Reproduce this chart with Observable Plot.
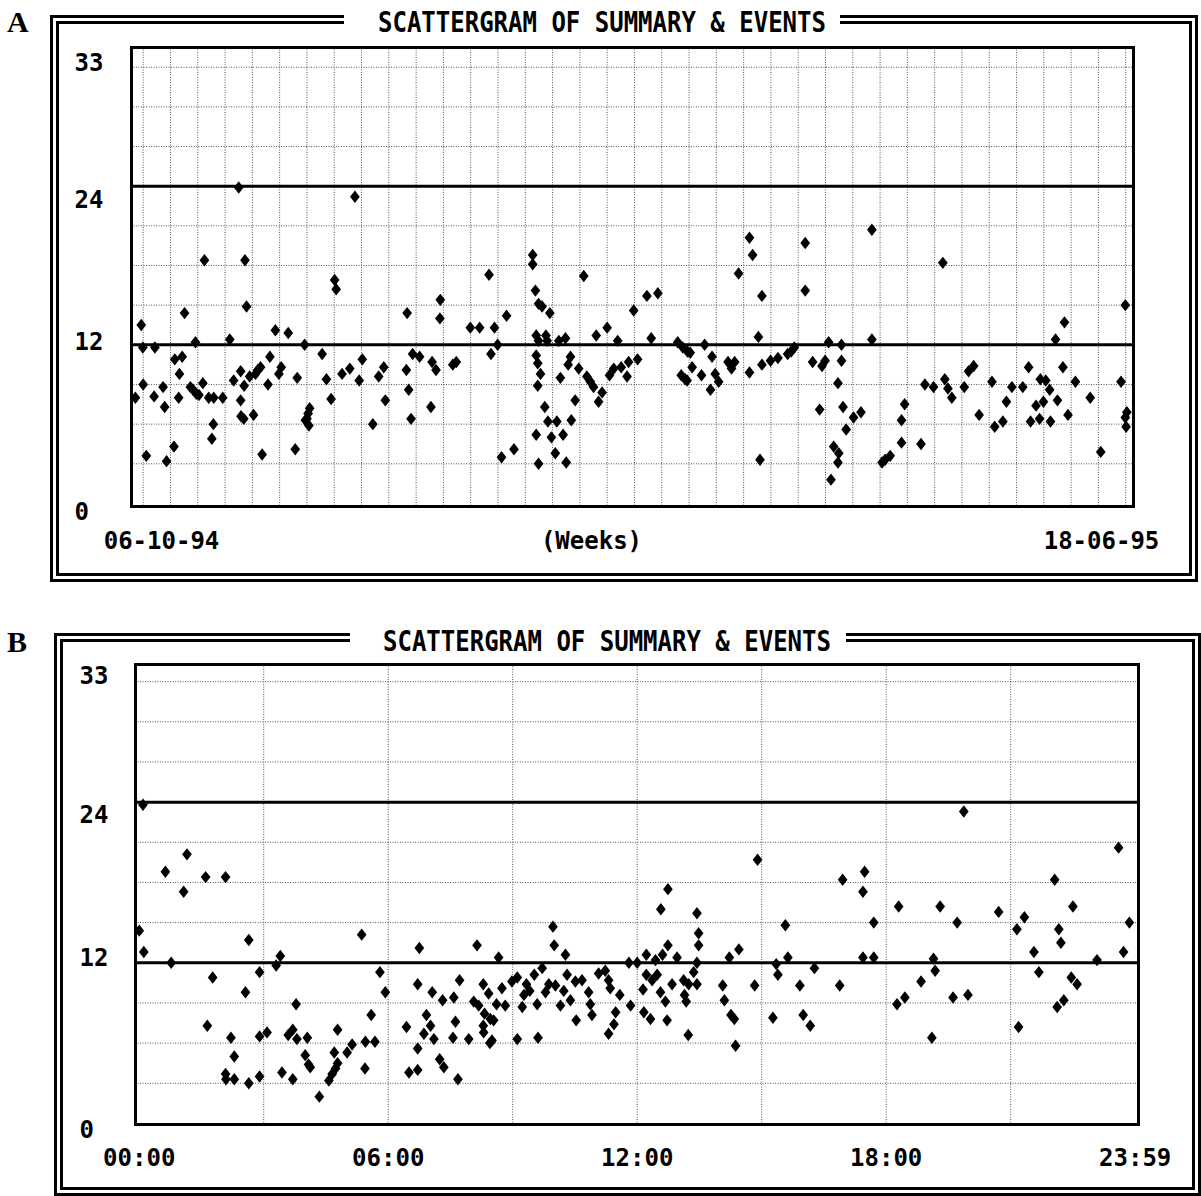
<!DOCTYPE html>
<html><head><meta charset="utf-8">
<script src="https://cdn.jsdelivr.net/npm/d3@7"></script>
<script src="https://cdn.jsdelivr.net/npm/@observablehq/plot@0.6"></script>
<style>
html,body{margin:0;padding:0;background:#fff;overflow:hidden;}
#page{position:relative;width:1201px;height:1196px;overflow:hidden;background:#fff;}
.panel{position:absolute;left:0;width:1201px;}
.border{position:absolute;box-sizing:border-box;border:9px double #000;}
.title{position:absolute;background:#fff;font-family:"DejaVu Sans Mono",monospace;font-weight:bold;font-size:24px;line-height:24px;white-space:nowrap;transform:scaleY(1.15);transform-origin:center;color:#000;}
.letter{position:absolute;font-family:"Liberation Serif","Times New Roman",serif;font-weight:bold;font-size:30px;line-height:30px;color:#000;}
.panel svg{position:absolute;left:0;top:0;}
</style></head>
<body>
<div id="page">
  <div class="letter" style="left:7px;top:7px">A</div>
  <div class="panel" id="pA" style="top:0;height:590px">
    <div class="border" style="left:50px;top:15px;width:1148px;height:567px"></div>
    <div class="title" id="tA" style="left:344px;top:10.5px;padding:0 14px 0 34px">SCATTERGRAM OF SUMMARY &amp; EVENTS</div>
  </div>
  <div class="letter" style="left:7px;top:627px">B</div>
  <div class="panel" id="pB" style="top:590px;height:606px">
    <div class="border" style="left:54px;top:43px;width:1147px;height:563px"></div>
    <div class="title" id="tB" style="left:350px;top:39.5px;padding:0 15px 0 33px">SCATTERGRAM OF SUMMARY &amp; EVENTS</div>
  </div>
</div>
<script>
// ---------- DATA ----------
// Panel A: day offset from 06-10-94, and value
const daysA = [
 1.0,2.5,2.9,3.0,3.8,6.0,5.8,8.1,8.5,9.0,
 10.9,11.1,13.0,12.3,12.1,13.6,15.1,15.8,16.4,16.6,
 17.3,18.3,18.7,19.8,21.1,21.0,20.6,23.4,25.2,26.2,
 27.5,28.0,28.9,28.0,28.1,28.8,29.1,29.5,30.3,31.3,
 31.8,32.4,33.1,33.5,35.0,35.5,36.9,37.8,38.4,40.2,
 42.0,42.5,44.4,44.6,45.3,45.7,45.5,45.0,48.9,50.0,
 51.2,52.1,52.5,54.0,56.0,57.3,58.4,59.2,61.9,63.4,
 64.7,65.1,70.5,70.7,71.1,71.7,72.1,73.9,76.8,77.1,
 78.1,79.2,79.1,82.4,83.3,86.9,89.3,91.7,92.2,93.1,
 93.9,94.9,96.2,98.1,102.9,102.9,103.6,104.4,105.3,103.8,
 104.4,106.3,106.6,107.3,103.8,104.2,104.9,104.2,106.0,106.8,
 109.1,103.8,107.7,108.7,104.4,110.7,111.5,110.0,109.6,111.3,
 112.6,112.0,113.8,112.8,114.7,116.0,116.8,117.7,118.5,119.8,
 120.7,119.2,122.0,122.6,123.7,124.7,125.6,127.1,127.5,128.8,
 129.8,132.2,135.0,133.3,140.1,141.4,142.6,143.3,141.0,142.0,
 142.5,143.8,146.2,147.0,148.5,148.9,149.7,150.6,153.0,153.9,
 154.7,155.7,158.5,159.3,160.8,161.7,158.5,161.7,161.2,163.9,
 165.8,168.3,169.2,170.0,172.8,172.8,174.7,177.1,177.9,176.5,
 178.8,182.1,182.1,181.2,182.5,183.3,185.2,187.1,180.1,181.4,
 181.2,179.4,189.9,189.9,192.5,193.3,194.6,197.5,197.5,198.3,
 202.5,203.5,205.7,208.1,208.6,209.4,210.4,213.6,214.7,216.0,
 217.4,220.7,221.4,223.5,224.4,225.8,228.6,230.1,230.6,232.0,
 232.9,233.1,233.9,234.5,235.5,235.7,237.0,237.5,238.9,239.3,
 240.2,242.1,245.9,248.6,253.8,254.9,254.9,255.3,255.1
];
const valuesA = [
 8.0,13.5,11.8,9.0,3.6,11.8,8.1,8.8,7.3,3.2,
 4.3,10.9,11.1,9.8,8.0,14.4,8.8,8.6,12.2,8.3,
 8.2,9.1,18.4,8.0,8.0,6.0,4.9,8.0,12.4,9.3,
 23.9,10.0,8.9,7.8,6.6,6.4,18.4,14.9,9.6,6.7,
 9.8,10.1,10.3,3.7,9.0,11.1,13.1,9.8,10.3,12.9,
 4.1,9.5,12.0,6.3,6.8,7.2,5.9,6.4,11.3,9.4,
 7.9,16.9,16.2,9.8,10.2,23.2,9.3,10.9,6.0,9.6,
 10.3,7.8,10.1,14.4,8.6,6.4,11.3,11.1,7.3,10.7,
 10.1,15.4,14.0,10.5,10.7,13.3,13.3,17.3,11.3,13.3,
 12.0,3.5,14.2,4.1,18.8,18.1,16.1,15.1,14.9,12.7,
 12.3,12.7,12.3,14.4,11.2,10.6,9.8,8.9,7.3,6.2,
 6.2,5.2,5.0,3.8,3.0,5.2,3.1,9.5,12.3,12.5,
 11.1,10.5,7.8,6.3,10.2,17.2,9.6,9.2,8.8,7.7,
 8.4,12.7,13.3,9.7,10.2,12.3,10.3,9.6,10.7,14.6,
 10.9,15.7,15.9,12.5,12.2,11.8,11.5,11.4,9.7,9.4,
 9.3,10.3,9.7,12.0,8.6,11.1,9.8,9.2,10.7,10.2,
 10.7,17.4,20.1,18.8,12.6,15.7,9.9,10.5,3.3,10.8,
 11.0,11.3,11.5,11.8,19.7,16.1,10.7,10.4,10.8,7.1,
 12.2,12.0,10.8,9.1,7.3,5.6,6.5,6.9,4.3,3.8,
 3.1,1.8,20.7,12.4,3.1,3.3,3.6,4.6,6.3,7.5,
 4.5,9.0,8.8,18.2,9.4,8.7,8.0,8.8,10.0,10.4,
 6.7,9.2,5.8,6.2,7.7,8.8,8.8,10.3,6.2,7.4,
 6.4,9.4,7.7,9.3,8.6,6.2,12.4,7.8,10.3,13.7,
 6.7,9.2,8.0,3.9,9.2,15.0,6.5,6.9,5.8
];
// Panel B: hour of day, and value
const hoursB = [
 0.09,0.0,0.11,0.63,0.77,1.15,1.07,1.6,2.08,1.77,
 1.64,2.64,2.56,2.21,2.29,2.08,2.09,2.29,2.64,2.9,
 2.9,3.08,2.9,3.3,3.4,3.78,3.44,3.7,3.59,3.7,
 3.8,4.05,4.0,4.08,4.12,4.34,4.57,4.65,4.73,4.78,
 4.7,4.78,5.01,5.13,5.45,5.68,5.44,5.59,5.36,5.8,
 5.93,6.44,6.5,6.71,6.71,6.71,6.75,6.86,6.92,7.02,
 7.06,7.1,7.24,7.34,7.31,7.56,7.58,7.62,7.68,7.72,
 7.94,8.06,8.14,8.18,8.29,8.29,8.32,8.42,8.46,8.5,
 8.45,8.54,8.3,8.61,8.66,8.74,8.82,8.98,9.11,9.11,
 9.23,9.27,9.33,9.41,9.52,9.59,9.61,9.71,9.79,9.87,
 9.97,10.0,10.03,10.15,10.23,10.27,10.31,10.39,10.51,10.53,
 10.67,10.83,10.87,10.91,11.07,11.23,11.31,11.35,11.58,11.48,
 11.44,11.31,11.8,11.84,12.0,12.22,12.14,12.16,12.32,12.22,
 12.36,12.44,12.48,12.56,12.68,12.72,12.61,12.74,12.57,12.74,
 12.84,12.96,13.12,13.14,13.18,13.24,13.23,13.36,13.44,13.44,
 13.48,13.48,13.44,14.06,14.1,14.22,14.26,14.34,14.37,14.45,
 14.83,14.9,15.27,15.35,15.39,15.57,15.63,15.92,16.0,16.17,
 16.27,16.88,16.95,17.44,17.48,17.44,17.7,17.7,18.26,18.45,
 18.3,18.84,19.1,19.14,19.18,19.3,19.61,19.71,19.87,19.97,
 20.71,21.15,21.19,21.33,21.56,21.68,22.06,22.16,22.21,22.12,
 22.28,22.46,22.6,22.5,23.08,23.6,23.72,23.86
];
const valuesB = [
 23.8,14.4,12.8,18.8,12.0,20.1,17.3,18.4,18.4,10.9,
 7.3,13.7,9.8,6.4,5.0,3.7,3.3,3.3,3.0,11.3,
 6.5,6.8,3.5,11.8,12.5,8.9,3.8,3.3,6.6,7.0,
 6.3,6.4,5.1,4.4,4.2,2.0,3.2,3.7,4.1,4.5,
 5.3,7.0,5.3,5.9,6.1,6.1,4.1,8.1,14.1,11.3,
 9.8,7.2,3.8,4.0,5.6,10.4,13.1,6.7,8.1,7.3,
 9.8,6.3,4.8,4.2,9.2,6.4,9.4,7.6,3.3,10.7,
 6.3,9.1,13.3,8.8,10.4,7.3,8.2,9.7,7.8,6.2,
 6.0,7.7,6.8,8.9,12.4,10.1,8.8,10.6,6.3,10.9,
 8.7,9.6,10.4,9.9,11.1,8.9,6.4,11.6,9.8,10.4,
 14.7,13.3,10.3,8.8,9.9,12.6,11.1,9.2,10.6,7.7,
 10.7,9.8,8.9,8.1,11.2,11.4,10.7,10.1,9.6,8.3,
 7.4,6.7,12.0,8.8,12.0,12.6,10.0,8.3,7.8,11.1,
 10.7,12.2,11.1,9.8,9.1,7.7,12.6,13.3,16.0,17.5,
 10.4,12.4,10.7,9.6,9.1,10.4,6.6,11.3,12.0,10.4,
 13.3,14.2,15.7,10.3,9.2,12.4,8.1,7.8,5.8,13.0,
 10.3,19.7,7.9,11.9,11.1,14.8,12.4,10.3,8.1,7.3,
 11.6,10.3,18.2,12.4,18.8,17.3,15.0,12.4,8.9,9.4,
 16.2,10.6,6.4,12.3,11.4,16.2,9.4,15.0,23.3,9.6,
 15.8,14.5,7.2,15.4,12.8,11.3,18.2,14.5,13.5,8.7,
 9.2,10.9,10.4,16.2,12.2,20.6,12.8,15.0
];
const yTickValues = [0, 12, 24, 33];
const limitLines = [12, 24];
const gridValues = [3, 6, 9, 15, 18, 21, 27, 30, 33];
const startDateA = "1994-10-06";
const endDateA = "1995-06-20";
const xLabelsA = ["06-10-94", "(Weeks)", "18-06-95"];
const hourTicksB = [0, 6, 12, 18, 24];
const hourLabelsB = ["00:00", "06:00", "12:00", "18:00", "23:59"];
const hourGridB = [3, 6, 9, 12, 15, 18, 21];

// ---------- BUILD ----------
const DAY = 864e5;
const t0 = new Date(startDateA + "T00:00:00Z");
const t1 = new Date(endDateA + "T00:00:00Z");
const dataA = daysA.map((d, i) => ({date: new Date(+t0 + d * DAY), value: valuesA[i]}));
const dataB = hoursB.map((h, i) => ({hour: h, value: valuesB[i]}));
const sundays = d3.utcSunday.range(t0, t1);

const tallDiamond = {
  draw(ctx, size) {
    const r = Math.sqrt(size / Math.PI);
    const w = r * 0.9, h = r * 1.15;
    ctx.moveTo(0, -h); ctx.lineTo(w, 0); ctx.lineTo(0, h); ctx.lineTo(-w, 0); ctx.closePath();
  }
};
const font = {fontFamily: "DejaVu Sans Mono", fontWeight: "bold", fontSize: 24, fill: "#000"};
const gridStyle = {stroke: "#555", strokeWidth: 1, strokeDasharray: "1,1.5"};

function yLabels(dx, offsets) {
  return yTickValues.map(t => Plot.text([t], {y: d => d, text: d => String(d), frameAnchor: "left", textAnchor: "start", dx, dy: offsets[t], ...font}));
}

const plotA = Plot.plot({
  width: 1201, height: 590,
  marginLeft: 131, marginRight: 68, marginTop: 47, marginBottom: 84,
  x: {type: "utc", domain: [t0, t1], axis: null},
  y: {domain: [-0.23, 34.49], axis: null},
  style: {background: "transparent", overflow: "visible"},
  marks: [
    Plot.ruleX(sundays, gridStyle),
    Plot.ruleY(gridValues, gridStyle),
    Plot.ruleY(limitLines, {stroke: "#000", strokeWidth: 3}),
    Plot.dot(dataA, {x: "date", y: "value", symbol: tallDiamond, r: 5.4, fill: "#000", stroke: "none"}),
    Plot.frame({stroke: "#000", strokeWidth: 3}),
    ...yLabels(-57, {33: -4, 24: 14, 12: -3, 0: 9}),
    Plot.text([xLabelsA[0]], {text: d => d, frameAnchor: "bottom-left", textAnchor: "middle", dx: 30, dy: 42, ...font}),
    Plot.text([xLabelsA[1]], {text: d => d, frameAnchor: "bottom", textAnchor: "middle", dx: -41, dy: 42, ...font}),
    Plot.text([xLabelsA[2]], {text: d => d, frameAnchor: "bottom-right", textAnchor: "middle", dx: -32, dy: 42, ...font})
  ]
});

const plotB = Plot.plot({
  width: 1201, height: 606,
  marginLeft: 135, marginRight: 63, marginTop: 74, marginBottom: 72,
  x: {domain: [-0.09, 24.08], axis: null},
  y: {domain: [-0.08, 34.28], axis: null},
  style: {background: "transparent", overflow: "visible"},
  marks: [
    Plot.ruleX(hourGridB, gridStyle),
    Plot.ruleY(gridValues, gridStyle),
    Plot.ruleY(limitLines, {stroke: "#000", strokeWidth: 3}),
    Plot.dot(dataB, {x: "hour", y: "value", symbol: tallDiamond, r: 5.4, fill: "#000", stroke: "none"}),
    Plot.frame({stroke: "#000", strokeWidth: 3}),
    ...yLabels(-56, {33: -5, 24: 13, 12: -4, 0: 7}),
    Plot.text(hourTicksB, {x: d => d, text: (d, i) => hourLabelsB[i], frameAnchor: "bottom", textAnchor: "middle", dy: 41, ...font})
  ]
});

const pA = document.getElementById("pA");
pA.insertBefore(plotA, document.getElementById("tA"));
const pB = document.getElementById("pB");
pB.insertBefore(plotB, document.getElementById("tB"));
</script>
</body></html>
